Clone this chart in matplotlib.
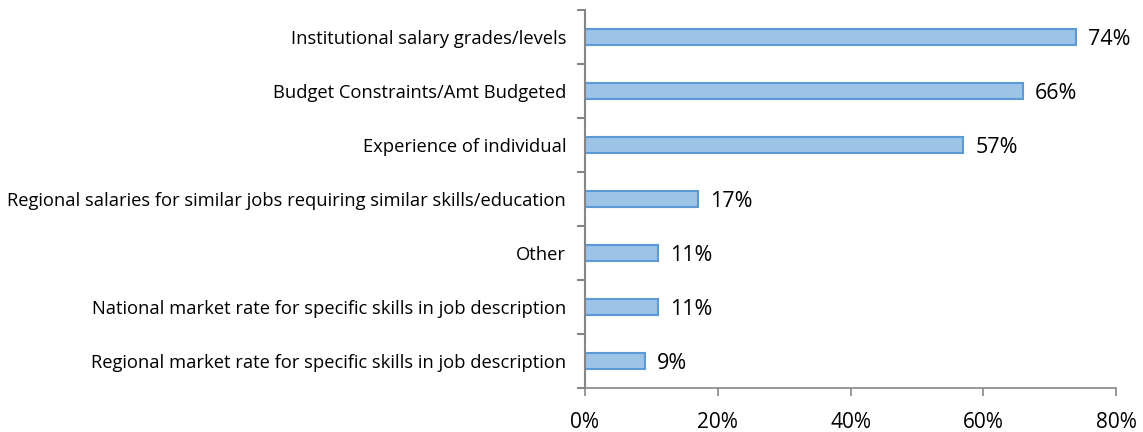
import numpy as np
import matplotlib
matplotlib.use("Agg")
import matplotlib.pyplot as plt
from matplotlib.ticker import FixedLocator, NullFormatter

categories = [
    "Institutional salary grades/levels",
    "Budget Constraints/Amt Budgeted",
    "Experience of individual",
    "Regional salaries for similar jobs requiring similar skills/education",
    "Other",
    "National market rate for specific skills in job description",
    "Regional market rate for specific skills in job description",
]
values = [74, 66, 57, 17, 11, 11, 9]
xticks = [0, 20, 40, 60, 80]

plt.rcParams['font.family'] = ['Open Sans', 'DejaVu Sans']

fig = plt.figure(figsize=(11.43, 4.32), dpi=100)
ax = fig.add_axes([0.5118, 0.1019, 0.4646, 0.875])

n = len(categories)
y = np.arange(n)[::-1]
ax.barh(y, values, height=0.3, color="#9DC3E6", edgecolor="#5B9BD5", linewidth=1.5)
for yy, v in zip(y, values):
    ax.text(v + 1.8, yy - 0.04, "%d%%" % v, va="center", ha="left", fontsize=15.5, color="black")

ax.set_xlim(0, 80)
ax.set_ylim(-0.5, n - 0.5)
ax.set_xticks(xticks)
ax.set_xticklabels(["%d%%" % t for t in xticks], fontsize=15)
ax.set_yticks(y)
ax.set_yticklabels(categories, fontsize=13.2)
ax.yaxis.set_minor_locator(FixedLocator(np.arange(-0.5, n, 1.0)))
ax.yaxis.set_minor_formatter(NullFormatter())
ax.tick_params(axis="y", which="major", length=0, pad=13.5)
ax.tick_params(axis="y", which="minor", length=6, color="#868686", width=1.5)
ax.tick_params(axis="x", length=6, color="#868686", width=1.2, pad=11)

for s in ["top", "right"]:
    ax.spines[s].set_visible(False)
ax.spines["left"].set_color("#868686")
ax.spines["left"].set_linewidth(1.5)
ax.spines["bottom"].set_color("#868686")
ax.spines["bottom"].set_linewidth(1.2)

fig.savefig("out.png", dpi=100)
